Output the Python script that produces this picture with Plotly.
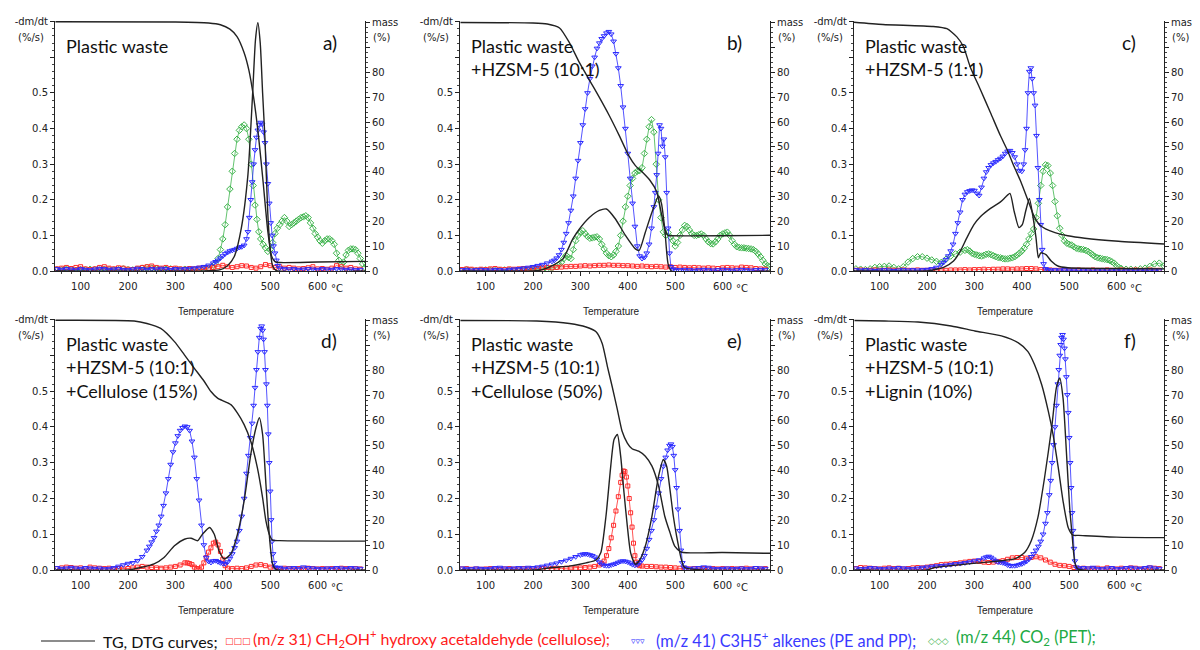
import plotly.graph_objects as go

# ---------------- data ----------------
# TG curves: (temperature °C, mass %)
A_TG = [(47,100.5),(300,100.4),(370,100),(395,99.3),(415,97.5),(430,94.5),(445,88),(455,81),(465,70),(475,55),(485,36),(495,16),(503,6),(510,3.8),(520,3.4),(600,3.6),(700,3.9)]
B_TG = [(47,100.2),(200,100),(230,99.6),(256,98),(277,92),(298,84),(319,77),(340,70),(360,63),(381,55),(402,46.5),(416,42.5),(430,40),(447,36.5),(461,32),(471,23),(478,17),(485,14.3),(490,14.2),(600,14.2),(700,14.4)]
C_TG = [(46,100.3),(107,99.4),(213,98.6),(242,97.7),(263,94.4),(277,90.4),(291,82.4),(313,73),(334,63.8),(355,54.5),(370,48.5),(384,42),(398,36),(412,29),(426,22),(438,18.5),(450,17),(470,15.5),(497,14.2),(533,13.2),(604,12),(700,10.9)]
D_TG = [(47,100.3),(213,100),(240,99),(269,97),(298,91.7),(319,86.4),(340,81),(361,75.7),(375,71.7),(389,69),(403,67.7),(417,66.4),(431,63),(445,58.4),(459,51.7),(473,41),(484,29),(491,19.7),(498,14.4),(505,12),(520,11.8),(700,11.6)]
E_TG = [(47,100.2),(208,100),(277,99),(312,97.6),(333,95.7),(346,91),(357,81.7),(367,73.7),(378,64.4),(388,55.7),(399,51),(409,48.7),(423,47.7),(437,45.7),(451,41.7),(465,33.7),(478,21.6),(489,15),(499,9.6),(513,7.2),(600,7),(700,6.7)]
F_TG = [(47,100.2),(111,100),(181,99.6),(251,98),(301,96),(357,94),(392,91.3),(413,87.7),(427,82.4),(442,74.4),(456,63.7),(466,54.4),(477,41),(487,27.7),(498,17),(508,14),(520,13.9),(600,13.2),(700,13)]

# DTG curves: (temperature °C, -dm/dt %/s)
A_DTG = [(47,0),(360,0),(395,0.004),(410,0.015),(424,0.04),(439,0.12),(453,0.27),(463,0.5),(469,0.65),(474,0.697),(479,0.64),(484,0.5),(489,0.37),(495,0.16),(500,0.06),(505,0.015),(512,0.002),(700,0)]
B_DTG = [(47,0),(200,0),(220,0.004),(242,0.016),(263,0.034),(284,0.09),(298,0.118),(319,0.15),(340,0.17),(355,0.174),(374,0.146),(395,0.1),(416,0.062),(424,0.058),(437,0.109),(451,0.165),(465,0.211),(471,0.19),(478,0.118),(485,0.02),(492,0),(700,0)]
C_DTG = [(46,0),(200,0),(213,0.003),(235,0.01),(256,0.028),(270,0.055),(284,0.093),(299,0.13),(313,0.153),(334,0.176),(355,0.194),(366,0.208),(375,0.218),(384,0.167),(394,0.122),(401,0.13),(408,0.167),(416,0.204),(423,0.157),(430,0.093),(435,0.037),(440,0.051),(451,0.046),(462,0.028),(476,0.014),(497,0.009),(568,0.007),(700,0.006)]
D_DTG = [(47,0),(200,0),(227,0.007),(255,0.017),(276,0.035),(298,0.068),(319,0.086),(333,0.089),(347,0.082),(357,0.1),(372,0.119),(382,0.1),(392,0.054),(403,0.031),(417,0.045),(431,0.1),(445,0.193),(459,0.323),(470,0.398),(477,0.426),(484,0.379),(491,0.24),(498,0.1),(505,0.017),(512,0.002),(700,0)]
E_DTG = [(47,0),(200,0),(242,0.007),(277,0.011),(312,0.02),(333,0.028),(343,0.048),(354,0.151),(364,0.29),(371,0.365),(378,0.379),(385,0.318),(392,0.216),(399,0.123),(406,0.048),(416,0.016),(426,0.03),(437,0.067),(451,0.151),(465,0.263),(475,0.309),(482,0.29),(489,0.225),(496,0.151),(503,0.095),(513,0.03),(520,0.007),(700,0)]
F_DTG = [(47,0),(200,0),(216,0.007),(287,0.017),(357,0.026),(385,0.031),(406,0.049),(420,0.082),(434,0.147),(448,0.258),(463,0.398),(473,0.51),(480,0.537),(487,0.481),(494,0.333),(501,0.175),(506,0.1),(512,0.02),(518,0.003),(700,0)]

# m/z 31 (red)
A_RED = [(50,0.006),(60,0.008),(70,0.01),(80,0.007),(90,0.01),(100,0.012),(110,0.006),(120,0.004),(130,0.006),(140,0.01),(150,0.012),(160,0.008),(170,0.006),(180,0.009),(190,0.008),(200,0.005),(210,0.004),(220,0.008),(230,0.01),(240,0.012),(250,0.014),(260,0.01),(270,0.008),(280,0.01),(290,0.007),(300,0.008),(310,0.006),(320,0.005),(330,0.007),(340,0.006),(350,0.008),(360,0.01),(370,0.008),(380,0.01),(390,0.012),(400,0.016),(410,0.012),(420,0.01),(430,0.012),(440,0.015),(450,0.014),(460,0.01),(470,0.008),(480,0.012),(490,0.018),(500,0.015),(510,0.01),(520,0.012),(530,0.008),(540,0.01),(550,0.008),(560,0.006),(570,0.007),(580,0.009),(590,0.012),(600,0.006),(610,0.007),(620,0.005),(630,0.008),(640,0.015),(650,0.012),(660,0.008),(670,0.01),(680,0.006),(690,0.005)]
B_RED = [(50,0.004),(60,0.006),(70,0.005),(80,0.003),(90,0.005),(100,0.004),(110,0.006),(120,0.007),(130,0.005),(140,0.004),(150,0.006),(160,0.005),(170,0.006),(180,0.007),(190,0.006),(200,0.008),(210,0.007),(220,0.009),(230,0.01),(240,0.009),(250,0.01),(260,0.011),(270,0.012),(280,0.013),(290,0.013),(300,0.014),(310,0.015),(320,0.014),(330,0.015),(340,0.016),(350,0.016),(360,0.017),(370,0.016),(380,0.016),(390,0.015),(400,0.015),(410,0.014),(420,0.013),(430,0.014),(440,0.013),(450,0.012),(460,0.013),(470,0.012),(480,0.011),(490,0.012),(500,0.01),(510,0.011),(520,0.01),(530,0.009),(540,0.01),(550,0.009),(560,0.008),(570,0.009),(580,0.008),(590,0.007),(600,0.009),(610,0.01),(620,0.009),(630,0.008),(640,0.011),(650,0.01),(660,0.009),(670,0.007),(680,0.006),(690,0.005)]
C_RED = [(50,0.002),(60,0.003),(70,0.002),(80,0.002),(90,0.003),(100,0.002),(110,0.002),(120,0.003),(130,0.002),(140,0.002),(150,0.003),(160,0.002),(170,0.002),(180,0.003),(190,0.002),(200,0.002),(210,0.003),(220,0.002),(230,0.003),(240,0.002),(250,0.003),(260,0.003),(270,0.003),(280,0.004),(290,0.003),(300,0.004),(310,0.004),(320,0.005),(330,0.004),(340,0.005),(350,0.005),(360,0.006),(370,0.006),(380,0.005),(390,0.006),(400,0.006),(410,0.007),(420,0.007),(430,0.006),(440,0.004),(450,0.003),(460,0.003),(470,0.002),(480,0.002),(490,0.003),(500,0.002),(510,0.002),(520,0.003),(530,0.002),(540,0.002),(550,0.003),(560,0.002),(570,0.002),(580,0.003),(590,0.002),(600,0.002),(610,0.003),(620,0.002),(630,0.002),(640,0.003),(650,0.002),(660,0.002),(670,0.003),(680,0.002),(690,0.002)]
D_RED = [(50,0.004),(60,0.006),(70,0.008),(80,0.007),(90,0.005),(100,0.006),(110,0.004),(120,0.008),(130,0.006),(140,0.005),(150,0.004),(160,0.005),(170,0.003),(180,0.004),(190,0.003),(200,0.004),(210,0.006),(220,0.008),(230,0.01),(240,0.008),(250,0.007),(260,0.006),(270,0.005),(280,0.006),(290,0.008),(300,0.01),(310,0.014),(320,0.02),(325,0.02),(330,0.018),(335,0.015),(340,0.008),(345,0.004),(350,0.003),(355,0.008),(360,0.02),(365,0.035),(370,0.05),(375,0.062),(380,0.075),(385,0.078),(390,0.07),(395,0.052),(400,0.03),(405,0.012),(410,0.005),(420,0.004),(430,0.005),(440,0.004),(450,0.006),(460,0.01),(470,0.014),(480,0.015),(490,0.012),(500,0.008),(510,0.004),(520,0.003),(530,0.005),(540,0.004),(550,0.003),(560,0.004),(570,0.003),(580,0.005),(590,0.004),(600,0.003),(610,0.004),(620,0.003),(630,0.004),(640,0.003),(650,0.005),(660,0.004),(670,0.003),(680,0.004),(690,0.003)]
E_RED = [(50,0.003),(60,0.004),(70,0.002),(80,0.003),(90,0.002),(100,0.003),(110,0.004),(120,0.003),(130,0.002),(140,0.003),(150,0.004),(160,0.002),(170,0.003),(180,0.004),(190,0.003),(200,0.004),(210,0.003),(220,0.004),(230,0.003),(240,0.004),(250,0.005),(260,0.004),(270,0.005),(280,0.006),(290,0.005),(300,0.006),(310,0.007),(320,0.008),(330,0.01),(340,0.014),(345,0.018),(350,0.025),(355,0.04),(360,0.06),(365,0.09),(370,0.125),(375,0.165),(380,0.205),(385,0.245),(388,0.265),(391,0.277),(394,0.275),(397,0.26),(400,0.235),(403,0.2),(406,0.16),(409,0.12),(412,0.075),(415,0.04),(418,0.022),(421,0.015),(425,0.012),(430,0.011),(440,0.01),(450,0.01),(460,0.009),(470,0.008),(480,0.008),(490,0.007),(500,0.006),(510,0.005),(520,0.004),(530,0.003),(540,0.004),(550,0.003),(560,0.004),(570,0.003),(580,0.004),(590,0.003),(600,0.004),(610,0.003),(620,0.004),(630,0.003),(640,0.004),(650,0.005),(660,0.003),(670,0.004),(680,0.003),(690,0.004)]
F_RED = [(50,0.004),(60,0.007),(70,0.006),(80,0.005),(90,0.004),(100,0.003),(110,0.005),(120,0.006),(130,0.004),(140,0.005),(150,0.003),(160,0.004),(170,0.006),(180,0.007),(190,0.006),(200,0.008),(210,0.01),(220,0.012),(230,0.015),(240,0.016),(250,0.017),(260,0.018),(270,0.02),(280,0.022),(290,0.024),(300,0.025),(310,0.024),(320,0.022),(330,0.021),(340,0.022),(350,0.024),(360,0.026),(370,0.03),(380,0.034),(390,0.035),(400,0.035),(410,0.033),(420,0.035),(430,0.037),(440,0.034),(450,0.028),(460,0.022),(470,0.016),(480,0.013),(490,0.012),(500,0.01),(510,0.007),(520,0.004),(530,0.005),(540,0.003),(550,0.004),(560,0.005),(570,0.003),(580,0.006),(590,0.004),(600,0.003),(610,0.005),(620,0.004),(630,0.006),(640,0.005),(650,0.003),(660,0.004),(670,0.006),(680,0.005),(690,0.004)]

# m/z 41 (blue)
A_BLUE = [(50,0.006),(60,0.004),(70,0.006),(80,0.005),(90,0.003),(100,0.006),(110,0.004),(120,0.003),(130,0.005),(140,0.007),(150,0.006),(160,0.004),(170,0.005),(180,0.006),(190,0.004),(200,0.003),(210,0.005),(220,0.007),(230,0.006),(240,0.004),(250,0.006),(260,0.005),(270,0.007),(280,0.006),(290,0.004),(300,0.006),(310,0.005),(320,0.006),(330,0.007),(340,0.008),(350,0.01),(360,0.012),(370,0.016),(380,0.022),(385,0.026),(390,0.03),(395,0.036),(400,0.042),(405,0.048),(410,0.052),(415,0.056),(420,0.058),(425,0.06),(430,0.063),(435,0.066),(440,0.068),(445,0.072),(450,0.09),(453,0.11),(456,0.15),(459,0.2),(462,0.25),(465,0.3),(468,0.34),(471,0.375),(474,0.395),(477,0.41),(480,0.417),(483,0.412),(486,0.39),(489,0.36),(492,0.3),(495,0.245),(498,0.19),(501,0.135),(504,0.1),(507,0.07),(510,0.05),(513,0.03),(516,0.015),(520,0.008),(530,0.006),(540,0.005),(550,0.006),(560,0.004),(570,0.005),(580,0.006),(590,0.005),(600,0.004),(610,0.006),(620,0.005),(630,0.004),(640,0.006),(650,0.005),(660,0.004),(670,0.005),(680,0.003),(690,0.004)]
B_BLUE = [(50,0.003),(60,0.004),(70,0.002),(80,0.003),(90,0.004),(100,0.003),(110,0.002),(120,0.004),(130,0.003),(140,0.002),(150,0.004),(160,0.005),(170,0.006),(180,0.008),(190,0.01),(200,0.012),(210,0.015),(220,0.018),(230,0.022),(240,0.027),(245,0.03),(250,0.036),(255,0.045),(260,0.06),(265,0.08),(270,0.105),(275,0.135),(280,0.17),(285,0.21),(290,0.26),(295,0.31),(300,0.36),(305,0.41),(310,0.455),(315,0.5),(320,0.54),(325,0.575),(330,0.6),(335,0.625),(340,0.64),(345,0.652),(350,0.66),(355,0.668),(360,0.672),(365,0.665),(370,0.645),(375,0.61),(380,0.57),(385,0.52),(390,0.46),(395,0.4),(400,0.33),(405,0.26),(410,0.19),(415,0.125),(420,0.07),(425,0.042),(430,0.035),(435,0.038),(440,0.05),(445,0.075),(450,0.12),(455,0.18),(458,0.22),(461,0.27),(464,0.33),(467,0.41),(470,0.4),(473,0.35),(476,0.37),(479,0.32),(482,0.22),(485,0.12),(488,0.05),(491,0.012),(495,0.005),(500,0.004),(510,0.003),(520,0.004),(530,0.003),(540,0.002),(550,0.003),(560,0.004),(570,0.003),(580,0.002),(590,0.003),(600,0.004),(610,0.003),(620,0.002),(630,0.003),(640,0.004),(650,0.003),(660,0.002),(670,0.003),(680,0.004),(690,0.003)]
C_BLUE = [(50,0.003),(60,0.002),(70,0.003),(80,0.002),(90,0.001),(100,0.002),(110,0.003),(120,0.002),(130,0.001),(140,0.002),(150,0.003),(160,0.002),(170,0.003),(180,0.002),(190,0.003),(200,0.004),(210,0.006),(220,0.01),(230,0.018),(235,0.024),(240,0.032),(245,0.042),(250,0.056),(255,0.075),(260,0.105),(265,0.135),(270,0.165),(275,0.2),(280,0.215),(285,0.222),(290,0.225),(295,0.227),(300,0.226),(305,0.218),(310,0.212),(315,0.235),(320,0.26),(325,0.278),(330,0.29),(335,0.298),(340,0.303),(345,0.307),(350,0.312),(355,0.316),(360,0.322),(365,0.33),(370,0.336),(375,0.338),(380,0.332),(385,0.32),(390,0.3),(395,0.282),(400,0.28),(404,0.3),(407,0.34),(410,0.4),(413,0.5),(416,0.56),(419,0.57),(422,0.54),(425,0.5),(428,0.465),(431,0.38),(434,0.29),(437,0.2),(440,0.13),(443,0.06),(446,0.02),(450,0.006),(455,0.003),(460,0.002),(470,0.003),(480,0.002),(490,0.003),(500,0.002),(510,0.002),(520,0.003),(530,0.002),(540,0.002),(550,0.003),(560,0.002),(570,0.002),(580,0.003),(590,0.002),(600,0.002),(610,0.003),(620,0.002),(630,0.002),(640,0.003),(650,0.002),(660,0.002),(670,0.003),(680,0.002),(690,0.002)]
D_BLUE = [(50,0.006),(60,0.004),(70,0.005),(80,0.007),(90,0.005),(100,0.004),(110,0.006),(120,0.005),(130,0.004),(140,0.005),(150,0.003),(160,0.004),(170,0.006),(180,0.01),(190,0.014),(200,0.018),(210,0.02),(220,0.026),(230,0.037),(240,0.055),(245,0.066),(250,0.078),(255,0.09),(260,0.108),(265,0.125),(270,0.15),(275,0.18),(280,0.215),(285,0.255),(290,0.295),(295,0.33),(300,0.355),(305,0.375),(310,0.39),(315,0.398),(320,0.402),(325,0.4),(330,0.39),(335,0.36),(340,0.315),(345,0.255),(350,0.195),(355,0.125),(360,0.07),(365,0.035),(370,0.024),(375,0.021),(380,0.025),(385,0.026),(390,0.023),(395,0.02),(400,0.018),(405,0.017),(410,0.022),(415,0.032),(420,0.045),(425,0.062),(430,0.08),(435,0.11),(440,0.15),(445,0.2),(450,0.27),(454,0.32),(458,0.37),(462,0.41),(465,0.46),(468,0.51),(471,0.56),(474,0.61),(477,0.65),(480,0.675),(482,0.682),(484,0.67),(486,0.645),(488,0.61),(490,0.56),(492,0.52),(494,0.46),(496,0.38),(498,0.3),(500,0.22),(502,0.14),(504,0.08),(506,0.045),(508,0.02),(510,0.008),(515,0.006),(520,0.007),(530,0.004),(540,0.005),(550,0.006),(560,0.004),(570,0.008),(580,0.006),(590,0.005),(600,0.004),(610,0.003),(620,0.005),(630,0.004),(640,0.006),(650,0.005),(660,0.004),(670,0.006),(680,0.005),(690,0.004)]
E_BLUE = [(50,0.005),(60,0.004),(70,0.003),(80,0.005),(90,0.004),(100,0.003),(110,0.004),(120,0.006),(130,0.007),(140,0.005),(150,0.004),(160,0.005),(170,0.006),(180,0.005),(190,0.007),(200,0.006),(210,0.008),(220,0.01),(230,0.013),(240,0.016),(250,0.019),(260,0.023),(270,0.027),(280,0.032),(290,0.037),(300,0.042),(305,0.044),(310,0.045),(315,0.044),(320,0.042),(325,0.04),(330,0.036),(335,0.03),(340,0.022),(345,0.016),(350,0.013),(355,0.012),(360,0.012),(365,0.014),(370,0.016),(375,0.018),(380,0.021),(385,0.024),(390,0.025),(395,0.024),(400,0.022),(405,0.019),(410,0.015),(415,0.013),(420,0.015),(425,0.02),(430,0.028),(435,0.04),(440,0.06),(445,0.085),(450,0.11),(455,0.14),(460,0.175),(465,0.215),(470,0.255),(475,0.29),(480,0.315),(484,0.335),(488,0.348),(491,0.352),(494,0.345),(497,0.32),(500,0.28),(503,0.23),(506,0.17),(509,0.11),(512,0.055),(515,0.02),(518,0.008),(522,0.005),(530,0.004),(540,0.005),(550,0.006),(560,0.008),(570,0.007),(580,0.004),(590,0.003),(600,0.004),(610,0.005),(620,0.003),(630,0.004),(640,0.005),(650,0.003),(660,0.004),(670,0.006),(680,0.005),(690,0.004)]
F_BLUE = [(50,0.005),(60,0.003),(70,0.004),(80,0.006),(90,0.005),(100,0.004),(110,0.003),(120,0.005),(130,0.004),(140,0.006),(150,0.005),(160,0.004),(170,0.003),(180,0.005),(190,0.007),(200,0.008),(210,0.01),(220,0.011),(230,0.012),(240,0.013),(250,0.015),(260,0.017),(270,0.018),(280,0.02),(290,0.022),(300,0.025),(310,0.028),(320,0.033),(325,0.036),(330,0.038),(335,0.035),(340,0.03),(345,0.025),(350,0.022),(355,0.021),(360,0.02),(365,0.018),(370,0.014),(375,0.012),(380,0.012),(385,0.012),(390,0.013),(395,0.015),(400,0.017),(405,0.02),(410,0.024),(415,0.03),(420,0.037),(425,0.045),(430,0.055),(435,0.066),(440,0.08),(445,0.1),(450,0.13),(454,0.16),(458,0.21),(461,0.25),(464,0.3),(467,0.35),(470,0.4),(473,0.46),(476,0.52),(478,0.56),(480,0.6),(482,0.63),(484,0.65),(486,0.658),(488,0.645),(490,0.62),(492,0.59),(494,0.54),(496,0.49),(498,0.44),(500,0.37),(502,0.3),(504,0.23),(506,0.16),(508,0.11),(510,0.06),(512,0.025),(515,0.008),(520,0.004),(530,0.006),(540,0.005),(550,0.007),(560,0.004),(570,0.003),(580,0.005),(590,0.006),(600,0.003),(610,0.004),(620,0.006),(630,0.007),(640,0.005),(650,0.004),(660,0.006),(670,0.008),(680,0.005),(690,0.004)]

# m/z 44 (green) – panels a, b, c only
A_GREEN = [(50,0.004),(60,0.003),(70,0.005),(80,0.004),(90,0.002),(100,0.004),(110,0.003),(120,0.005),(130,0.004),(140,0.003),(150,0.005),(160,0.004),(170,0.003),(180,0.004),(190,0.006),(200,0.004),(210,0.003),(220,0.005),(230,0.008),(240,0.01),(250,0.008),(260,0.006),(270,0.004),(280,0.005),(290,0.006),(300,0.004),(310,0.003),(320,0.005),(330,0.004),(340,0.003),(350,0.004),(360,0.005),(370,0.008),(378,0.012),(384,0.02),(390,0.035),(395,0.06),(400,0.09),(405,0.13),(410,0.18),(415,0.23),(420,0.28),(425,0.33),(430,0.37),(435,0.395),(440,0.405),(445,0.41),(450,0.4),(455,0.37),(460,0.3),(464,0.24),(468,0.185),(472,0.145),(476,0.11),(480,0.09),(485,0.075),(490,0.065),(495,0.055),(500,0.06),(505,0.08),(510,0.105),(515,0.12),(520,0.13),(525,0.14),(530,0.15),(535,0.14),(540,0.125),(545,0.13),(550,0.135),(555,0.14),(560,0.145),(565,0.15),(570,0.152),(575,0.155),(580,0.15),(585,0.135),(590,0.12),(595,0.105),(600,0.095),(605,0.085),(610,0.078),(615,0.085),(620,0.09),(625,0.09),(630,0.085),(635,0.075),(640,0.05),(645,0.03),(650,0.02),(655,0.025),(660,0.045),(665,0.058),(670,0.062),(675,0.062),(680,0.06),(685,0.05),(690,0.035),(695,0.02),(700,0.01)]
B_GREEN = [(50,0.002),(60,0.003),(70,0.002),(80,0.001),(90,0.002),(100,0.003),(110,0.002),(120,0.001),(130,0.002),(140,0.003),(150,0.002),(160,0.001),(170,0.002),(180,0.003),(190,0.002),(200,0.003),(210,0.004),(220,0.005),(230,0.006),(240,0.008),(250,0.012),(255,0.018),(260,0.025),(265,0.035),(270,0.044),(275,0.038),(280,0.035),(285,0.06),(290,0.085),(295,0.1),(300,0.108),(305,0.113),(310,0.105),(315,0.097),(320,0.092),(325,0.093),(330,0.095),(335,0.096),(340,0.09),(345,0.075),(350,0.062),(355,0.05),(360,0.043),(365,0.04),(370,0.045),(375,0.055),(380,0.07),(385,0.1),(390,0.14),(395,0.18),(400,0.21),(405,0.24),(410,0.26),(415,0.275),(420,0.28),(425,0.282),(430,0.29),(435,0.33),(440,0.37),(445,0.405),(450,0.425),(455,0.39),(460,0.3),(465,0.2),(470,0.15),(475,0.11),(480,0.1),(485,0.108),(490,0.095),(495,0.085),(500,0.07),(505,0.08),(510,0.1),(515,0.115),(520,0.128),(525,0.125),(530,0.115),(535,0.105),(540,0.1),(545,0.1),(550,0.102),(555,0.104),(560,0.1),(565,0.09),(570,0.082),(575,0.077),(580,0.076),(585,0.082),(590,0.09),(595,0.1),(600,0.104),(605,0.107),(610,0.109),(615,0.1),(620,0.085),(625,0.075),(630,0.068),(635,0.066),(640,0.065),(645,0.065),(650,0.064),(655,0.063),(660,0.062),(665,0.06),(670,0.055),(675,0.048),(680,0.04),(685,0.03),(690,0.02),(695,0.015),(700,0.012)]
C_GREEN = [(50,0.006),(60,0.005),(70,0.004),(80,0.006),(90,0.01),(100,0.012),(110,0.013),(120,0.014),(130,0.01),(140,0.006),(150,0.012),(160,0.025),(170,0.035),(180,0.04),(190,0.04),(200,0.036),(210,0.031),(220,0.027),(230,0.024),(240,0.033),(250,0.042),(260,0.048),(270,0.053),(280,0.058),(285,0.06),(290,0.056),(295,0.05),(300,0.047),(305,0.045),(310,0.043),(315,0.042),(320,0.044),(325,0.047),(330,0.048),(335,0.046),(340,0.043),(345,0.04),(350,0.038),(355,0.037),(360,0.035),(365,0.034),(370,0.034),(375,0.036),(380,0.037),(385,0.04),(390,0.045),(395,0.05),(400,0.056),(405,0.064),(410,0.075),(415,0.09),(420,0.105),(425,0.118),(430,0.15),(435,0.19),(440,0.24),(445,0.28),(450,0.298),(455,0.296),(460,0.275),(465,0.24),(470,0.195),(475,0.155),(480,0.12),(485,0.1),(490,0.085),(495,0.078),(500,0.075),(505,0.073),(510,0.068),(515,0.064),(520,0.062),(525,0.061),(530,0.06),(535,0.058),(540,0.055),(545,0.05),(550,0.045),(555,0.04),(560,0.037),(565,0.036),(570,0.034),(575,0.033),(580,0.032),(585,0.03),(590,0.026),(595,0.022),(600,0.015),(605,0.01),(610,0.007),(620,0.005),(630,0.005),(640,0.004),(650,0.006),(660,0.008),(670,0.013),(680,0.02),(690,0.022),(700,0.014)]

PANEL_TEXT = ["Plastic waste",
              "Plastic waste<br>+HZSM-5 (10:1)",
              "Plastic waste<br>+HZSM-5 (1:1)",
              "Plastic waste<br>+HZSM-5 (10:1)<br>+Cellulose (15%)",
              "Plastic waste<br>+HZSM-5 (10:1)<br>+Cellulose (50%)",
              "Plastic waste<br>+HZSM-5 (10:1)<br>+Lignin (10%)"]
PANEL_TAG = ["a)", "b)", "c)", "d)", "e)", "f)"]

TG = [A_TG, B_TG, C_TG, D_TG, E_TG, F_TG]
DTG = [A_DTG, B_DTG, C_DTG, D_DTG, E_DTG, F_DTG]
RED = [A_RED, B_RED, C_RED, D_RED, E_RED, F_RED]
BLUE = [A_BLUE, B_BLUE, C_BLUE, D_BLUE, E_BLUE, F_BLUE]
GREEN = [A_GREEN, B_GREEN, C_GREEN, None, None, None]

X_TICKS = [100, 200, 300, 400, 500, 600]
DTG_TICKS = [0, 0.1, 0.2, 0.3, 0.4, 0.5, 0.6, 0.7]
DTG_TICKTEXT = ["0.0", "0.1", "0.2", "0.3", "0.4", "0.5", " ", "-dm/dt"]
MASS_TICKS = [0, 10, 20, 30, 40, 50, 60, 70, 80, 90, 100]
MASS_TICKTEXT = ["0", "10", "20", "30", "40", "50", "60", "70", "80", " ", "mass"]

LEGEND_TG = "TG, DTG curves;"
LEGEND_RED = "(m/z 31) CH<sub>2</sub>OH<sup>+</sup> hydroxy acetaldehyde (cellulose);"
LEGEND_BLUE = "(m/z 41) C3H5<sup>+</sup> alkenes (PE and PP);"
LEGEND_GREEN = "(m/z 44) CO<sub>2</sub> (PET);"

# ---------------- layout geometry (screen pixels) ----------------
W, H = 1200, 650
OFF = 8                      # the page body offsets the figure by 8 px
COLS = [(55, 365), (460, 770), (854, 1164)]
ROWS = [(21, 271), (319, 570)]


def px(x):
    return (x - OFF) / W


def py(y):
    return 1 - (y - OFF) / H


RED_C = "#ff2a2a"
BLUE_C = "#2a2aff"
GREEN_C = "#3cb44b"
BLACK_C = "#222222"
TICKFONT = dict(family="DejaVu Sans", size=10, color="#222")
TEXTFONT = "Lato"


def ref(kind, idx):
    return kind if idx == 1 else f"{kind}{idx}"


def key(kind, idx):
    return f"{kind}axis" if idx == 1 else f"{kind}axis{idx}"


def xy(pairs):
    return [p[0] for p in pairs], [p[1] for p in pairs]


fig = go.Figure()
annotations = []
layout = {}

for i in range(6):
    r, c = divmod(i, 3)
    xi, yl, yr = i + 1, 2 * i + 1, 2 * i + 2
    x0, x1 = COLS[c]
    top, bot = ROWS[r]
    layout[key("x", xi)] = dict(
        domain=[px(x0), px(x1)], anchor=ref("y", yl), range=[46, 700],
        tickmode="array", tickvals=X_TICKS, ticktext=[str(v) for v in X_TICKS],
        ticks="outside", ticklen=4, tickcolor="#222", tickwidth=1, ticklabelstandoff=2,
        showline=True, linecolor="#222", linewidth=1, showgrid=False, zeroline=False,
        tickfont=TICKFONT, automargin=False,
        minor=dict(ticks="outside", ticklen=2, tick0=0, dtick=20, tickcolor="#444", showgrid=False))
    layout[key("y", yl)] = dict(
        domain=[py(bot), py(top)], anchor=ref("x", xi), range=[0, 0.702],
        tickmode="array", tickvals=DTG_TICKS, ticktext=DTG_TICKTEXT,
        ticks="outside", ticklen=4, tickcolor="#222",
        showline=True, linecolor="#222", linewidth=1, showgrid=False, zeroline=False,
        tickfont=TICKFONT, automargin=False,
        minor=dict(ticks="outside", ticklen=2, tick0=0, dtick=0.02, tickcolor="#444", showgrid=False))
    layout[key("y", yr)] = dict(
        overlaying=ref("y", yl), side="right", anchor=ref("x", xi), range=[0, 100.8],
        tickmode="array", tickvals=MASS_TICKS, ticktext=MASS_TICKTEXT,
        ticks="outside", ticklen=4, tickcolor="#222",
        showline=True, linecolor="#222", linewidth=1, showgrid=False, zeroline=False,
        tickfont=TICKFONT, automargin=False,
        minor=dict(ticks="outside", ticklen=2, tick0=0, dtick=2, tickcolor="#444", showgrid=False))

    xr, ylr, yrr = ref("x", xi), ref("y", yl), ref("y", yr)
    if GREEN[i] is not None:
        gx, gy = xy(GREEN[i])
        fig.add_trace(go.Scatter(x=gx, y=gy, xaxis=xr, yaxis=ylr, mode="lines+markers",
                                 line=dict(color=GREEN_C, width=0.8),
                                 marker=dict(symbol="diamond-open", size=5, color=GREEN_C, line=dict(width=1)),
                                 showlegend=False, hoverinfo="skip"))
    rx, ry = xy(RED[i])
    fig.add_trace(go.Scatter(x=rx, y=ry, xaxis=xr, yaxis=ylr, mode="lines+markers",
                             line=dict(color=RED_C, width=0.8),
                             marker=dict(symbol="square-open", size=4, color=RED_C, line=dict(width=1)),
                             showlegend=False, hoverinfo="skip"))
    bx, by = xy(BLUE[i])
    fig.add_trace(go.Scatter(x=bx, y=by, xaxis=xr, yaxis=ylr, mode="lines+markers",
                             line=dict(color=BLUE_C, width=0.8),
                             marker=dict(symbol="triangle-down-open", size=5, color=BLUE_C, line=dict(width=1)),
                             showlegend=False, hoverinfo="skip"))
    dx, dy = xy(DTG[i])
    fig.add_trace(go.Scatter(x=dx, y=dy, xaxis=xr, yaxis=ylr, mode="lines",
                             line=dict(color=BLACK_C, width=1.4, shape="spline", smoothing=0.6),
                             showlegend=False, hoverinfo="skip"))
    tx, ty = xy(TG[i])
    fig.add_trace(go.Scatter(x=tx, y=ty, xaxis=xr, yaxis=yrr, mode="lines",
                             line=dict(color=BLACK_C, width=1.4, shape="spline", smoothing=0.6),
                             showlegend=False, hoverinfo="skip"))

    xd, yd = f"{xr} domain", f"{ylr} domain"
    annotations += [
        dict(text=PANEL_TEXT[i], xref=xd, yref=yd, x=0.03, y=0.953, xanchor="left", yanchor="top",
             align="left", showarrow=False, font=dict(family=TEXTFONT, size=18, color="#111")),
        dict(text=PANEL_TAG[i], xref=xd, yref=yd, x=0.915, y=0.915, xanchor="right", yanchor="middle",
             showarrow=False, font=dict(family=TEXTFONT, size=19, color="#111")),
        dict(text="(%/s)", xref=xd, yref=yd, x=-0.03, y=0.935, xanchor="right", yanchor="middle",
             showarrow=False, font=TICKFONT),
        dict(text="(%)", xref=xd, yref=yd, x=1.02, y=0.935, xanchor="left", yanchor="middle",
             showarrow=False, font=TICKFONT),
        dict(text="°C", xref=xr, yref=yd, x=624, y=0, yshift=-17, xanchor="left", yanchor="middle",
             showarrow=False, font=TICKFONT),
        dict(text="Temperature", xref=xd, yref=yd, x=0.49, y=0, yshift=-40, xanchor="center",
             yanchor="middle", showarrow=False, font=dict(family="Liberation Sans", size=10, color="#222")),
    ]

# bottom legend line (screen coordinates)
LEG_Y = py(638)
annotations += [
    dict(text=LEGEND_TG, xref="paper", yref="paper", x=px(101), y=LEG_Y, yshift=-3, xanchor="left",
         yanchor="middle", showarrow=False, font=dict(family=TEXTFONT, size=16, color="#111")),
    dict(text="□□□", xref="paper", yref="paper", x=px(223), y=LEG_Y, yshift=-3, xanchor="left",
         yanchor="middle", showarrow=False, font=dict(family="DejaVu Sans", size=9, color=RED_C)),
    dict(text=LEGEND_RED, xref="paper", yref="paper", x=px(251), y=LEG_Y, xanchor="left",
         yanchor="middle", showarrow=False, font=dict(family=TEXTFONT, size=16, color="#ff1a1a")),
    dict(text="▿▿▿", xref="paper", yref="paper", x=px(629), y=LEG_Y, yshift=-3, xanchor="left",
         yanchor="middle", showarrow=False, font=dict(family="DejaVu Sans", size=9, color=BLUE_C)),
    dict(text=LEGEND_BLUE, xref="paper", yref="paper", x=px(654), y=LEG_Y, yshift=-1, xanchor="left",
         yanchor="middle", showarrow=False, font=dict(family=TEXTFONT, size=16.3, color="#3a3aff")),
    dict(text="◇◇◇", xref="paper", yref="paper", x=px(926), y=LEG_Y, yshift=-3, xanchor="left",
         yanchor="middle", showarrow=False, font=dict(family="DejaVu Sans", size=9, color=GREEN_C)),
    dict(text=LEGEND_GREEN, xref="paper", yref="paper", x=px(954), y=LEG_Y, yshift=1, xanchor="left",
         yanchor="middle", showarrow=False, font=dict(family=TEXTFONT, size=16.3, color="#22aa44")),
]

fig.update_layout(
    width=W, height=H, margin=dict(l=0, r=0, t=0, b=0),
    paper_bgcolor="white", plot_bgcolor="white", showlegend=False,
    annotations=annotations,
    shapes=[dict(type="line", xref="paper", yref="paper", x0=px(41), x1=px(95), y0=py(641),
                 y1=py(641), line=dict(color="#666", width=1.5))],
    **layout)

fig.write_html("out.html")
